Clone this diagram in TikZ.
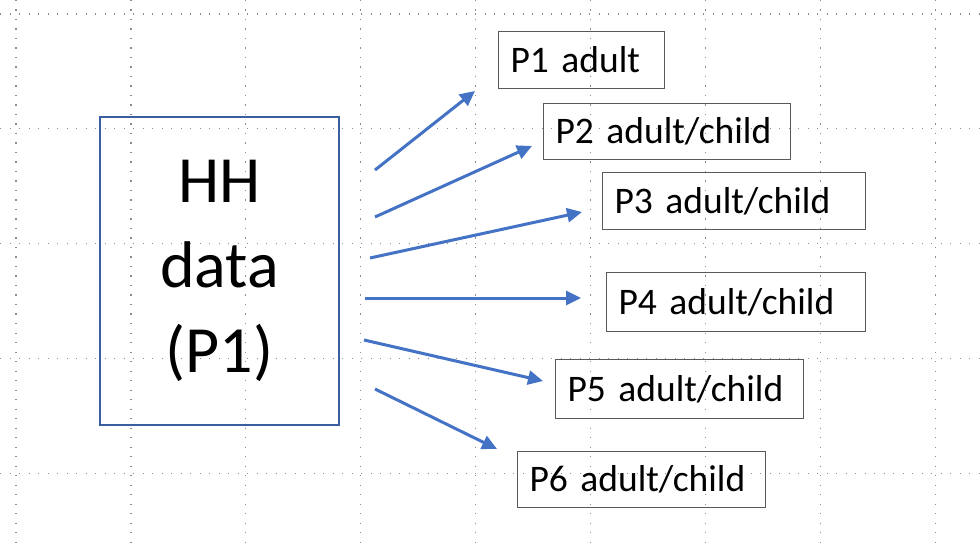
\documentclass[tikz,border=0pt]{standalone}
\usepackage{fontspec}
\setmainfont{Carlito}
\usetikzlibrary{arrows.meta}
\definecolor{arrowblue}{HTML}{4472C4}
\definecolor{boxblue}{HTML}{3B5EA3}
\definecolor{gridgray}{HTML}{8C8C8C}
\definecolor{boxgray}{HTML}{595959}
\tikzset{
  gridline/.style={draw=gridgray, line width=1.3pt, dash pattern=on 1.3pt off 8.2pt},
  hhbox/.style={draw=boxblue, line width=1.5pt, align=center, inner sep=0pt,
    font=\fontsize{66}{85}\selectfont},
  pbox/.style={draw=boxgray, line width=1.2pt, anchor=north west, align=left,
    inner xsep=12pt, inner ysep=0pt, font=\fontsize{37.5}{45}\selectfont},
  link/.style={draw=arrowblue, line width=3pt, -{Triangle[length=15pt,width=14pt]}}
}
\begin{document}
\begin{tikzpicture}[x=1pt,y=-1pt]
\useasboundingbox (0,0) rectangle (980,548);
\fill[white] (0,0) rectangle (980,548);
% grid
\foreach \i in {0,...,8} \draw[gridline] ({16+114.9*\i},0) -- ({16+114.9*\i},548);
\foreach \j in {0,...,4} \draw[gridline] (0,{14+114.8*\j}) -- (980,{14+114.8*\j});
% main box
\node[hhbox, minimum width=239pt, minimum height=308pt] (hh) at (219.5,271) {HH\\data\\(P1)};
% person boxes
\node[pbox, minimum width=166pt, minimum height=57pt, text width=142pt] (p1) at (498,31) {P1 adult};
\node[pbox, minimum width=247pt, minimum height=56pt, text width=223pt] (p2) at (543,103) {P2 adult/child};
\node[pbox, minimum width=263pt, minimum height=57pt, text width=239pt] (p3) at (602,172) {P3 adult/child};
\node[pbox, minimum width=259pt, minimum height=59pt, text width=235pt] (p4) at (606,272) {P4 adult/child};
\node[pbox, minimum width=248pt, minimum height=59pt, text width=224pt] (p5) at (555,359) {P5 adult/child};
\node[pbox, minimum width=248pt, minimum height=56pt, text width=224pt] (p6) at (517,451) {P6 adult/child};
% arrow ends
\coordinate (a1s) at (375,170); \coordinate (a1e) at (475,91);
\coordinate (a2s) at (375,217); \coordinate (a2e) at (532,146);
\coordinate (a3s) at (370,258); \coordinate (a3e) at (582,212);
\coordinate (a4s) at (365,298); \coordinate (a4e) at (581,298);
\coordinate (a5s) at (364,340); \coordinate (a5e) at (543,381);
\coordinate (a6s) at (375,389); \coordinate (a6e) at (497,449);
\draw[link] (a1s) -- (a1e);
\draw[link] (a2s) -- (a2e);
\draw[link] (a3s) -- (a3e);
\draw[link] (a4s) -- (a4e);
\draw[link] (a5s) -- (a5e);
\draw[link] (a6s) -- (a6e);
\end{tikzpicture}
\end{document}
